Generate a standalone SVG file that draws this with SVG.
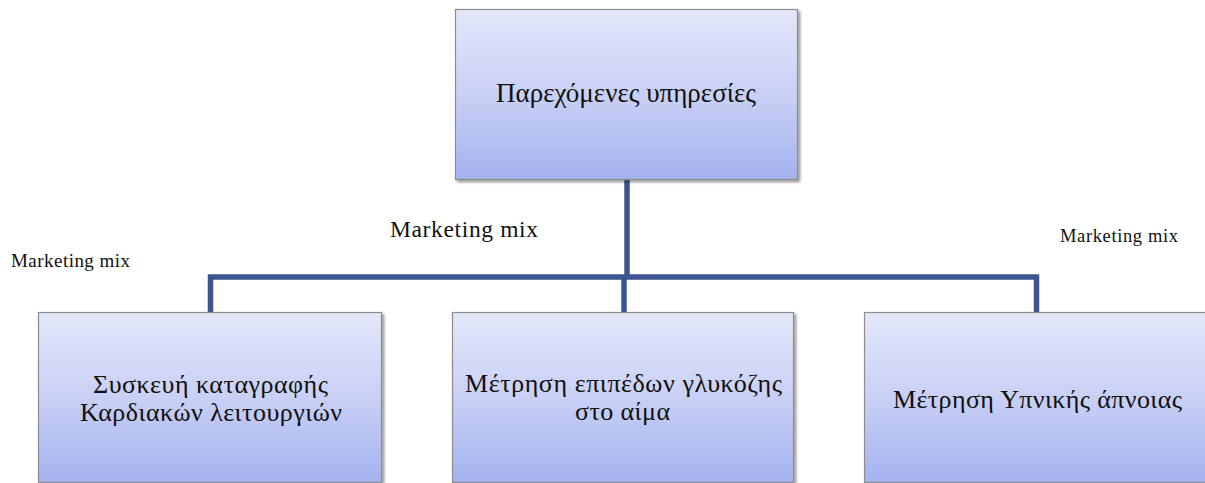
<svg xmlns="http://www.w3.org/2000/svg" width="1205" height="483" viewBox="0 0 1205 483">
  <defs>
    <linearGradient id="boxFill" x1="0" y1="0" x2="0" y2="1">
      <stop offset="0" stop-color="#e3e7fa"/>
      <stop offset="0.5" stop-color="#c9d0f5"/>
      <stop offset="1" stop-color="#a4b2ef"/>
    </linearGradient>
    <filter id="shadow" x="-5%" y="-5%" width="112%" height="115%">
      <feDropShadow dx="2" dy="2" stdDeviation="1.6" flood-color="#000" flood-opacity="0.45"/>
    </filter>
  </defs>
  <style>
    .box { fill: url(#boxFill); stroke: #8c8c8c; stroke-width: 1.2; filter: url(#shadow); }
    .label { font-family: "Liberation Serif", "DejaVu Serif", serif; fill: #111; text-anchor: middle; }
    .note { font-family: "Liberation Serif", "DejaVu Serif", serif; fill: #111; }
    .wire { fill: none; stroke: #3c5591; stroke-width: 5.5; stroke-linejoin: miter; }
  </style>

  <rect width="1205" height="483" fill="#ffffff"/>

  <!-- connectors -->
  <g id="connectors">
    <path class="wire" d="M627,180 V277"/>
    <path class="wire" d="M210.5,312 V277 H1036.5 V312"/>
    <path class="wire" d="M624,277 V312"/>
  </g>

  <!-- root -->
  <g id="node-services">
    <rect class="box" x="455.5" y="9.5" width="342" height="170"/>
    <text class="label" x="626" y="102" font-size="27" textLength="260" lengthAdjust="spacing">Παρεχόμενες υπηρεσίες</text>
  </g>

  <g id="node-cardiac">
    <rect class="box" x="38.5" y="312.5" width="343" height="170"/>
    <text class="label" x="210.5" y="393" font-size="26" textLength="235" lengthAdjust="spacing">Συσκευή καταγραφής</text>
    <text class="label" x="211" y="421" font-size="26" textLength="262" lengthAdjust="spacing">Καρδιακών λειτουργιών</text>
  </g>

  <g id="node-glucose">
    <rect class="box" x="452.5" y="312.5" width="341" height="170"/>
    <text class="label" x="623.5" y="392" font-size="26" textLength="317" lengthAdjust="spacing">Μέτρηση επιπέδων γλυκόζης</text>
    <text class="label" x="622.5" y="420" font-size="26" textLength="95" lengthAdjust="spacing">στο αίμα</text>
  </g>

  <g id="node-apnea">
    <rect class="box" x="864.5" y="312.5" width="344" height="170"/>
    <text class="label" x="1037.5" y="408" font-size="26" textLength="289" lengthAdjust="spacing">Μέτρηση Υπνικής άπνοιας</text>
  </g>

  <!-- side notes -->
  <g id="notes">
    <text class="note" x="11" y="267" font-size="19" textLength="119" lengthAdjust="spacing">Marketing mix</text>
    <text class="note" x="390" y="237" font-size="23.5" textLength="148" lengthAdjust="spacing">Marketing mix</text>
    <text class="note" x="1060" y="242" font-size="18.5" textLength="118" lengthAdjust="spacing">Marketing mix</text>
  </g>
</svg>
